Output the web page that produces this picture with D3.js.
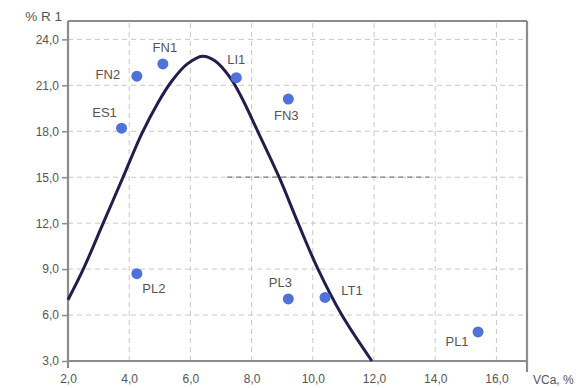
<!DOCTYPE html>
<html>
<head>
<meta charset="utf-8">
<script src="https://cdn.jsdelivr.net/npm/d3@7"></script>
<style>
  html, body { margin: 0; padding: 0; background: #fff; }
  svg { display: block; font-family: "Liberation Sans", Arial, sans-serif; }
</style>
</head>
<body>
<div id="chart"></div>
<script>
// samples: name, VCa %, R1 %
const names = ["FN1", "FN2", "ES1", "LI1", "FN3", "PL2", "PL3", "LT1", "PL1"];
const vca   = [5.1, 4.25, 3.75, 7.5, 9.2, 4.25, 9.2, 10.4, 15.4];
const r1    = [22.4, 21.6, 18.2, 21.5, 20.1, 8.7, 7.05, 7.15, 4.9];

// fitted curve
const curveX = [2.0, 2.5, 3.15, 3.8, 4.4, 4.95, 5.4, 5.9, 6.4, 6.8, 7.3, 7.65, 8.2, 8.9, 9.52, 10.17, 10.95, 11.93];
const curveY = [7.0, 9.0, 12.0, 15.0, 17.8, 19.9, 21.3, 22.4, 22.9, 22.6, 21.5, 20.3, 18.0, 15.0, 12.0, 9.0, 6.0, 3.0];

const xTicks = [2, 4, 6, 8, 10, 12, 14, 16];
const yTicks = [3, 6, 9, 12, 15, 18, 21, 24];

const W = 580, H = 388;
const margin = { top: 21, right: 53, bottom: 27, left: 68 };

// label offsets from each dot (px)
const labelPos = {
  FN1: [2, -16], FN2: [-29, -2], ES1: [-17, -16], LI1: [0, -18], FN3: [-2, 16],
  PL2: [17, 15], PL3: [-8, -16], LT1: [27, -7], PL1: [-21, 10]
};

const fmt = d => d3.format(".1f")(d).replace(".", ",");

const svg = d3.select("#chart").append("svg")
  .attr("width", W)
  .attr("height", H);

const x = d3.scaleLinear().domain([2, 17]).range([margin.left, W - margin.right]);
const y = d3.scaleLinear().domain([3, 25.2]).range([H - margin.bottom, margin.top]);

const grid = svg.append("g").attr("stroke", "#c8c8c8").attr("stroke-width", 1).attr("stroke-dasharray", "5,4");

grid.selectAll(".gx")
  .data(xTicks.slice(1))
  .join("line")
  .attr("x1", d => x(d)).attr("x2", d => x(d))
  .attr("y1", y(3)).attr("y2", margin.top);

grid.selectAll(".gy")
  .data(yTicks.slice(1))
  .join("line")
  .attr("x1", x(2)).attr("x2", W - margin.right)
  .attr("y1", d => y(d)).attr("y2", d => y(d));

// darker dashed stretch on the 15,0 row (as in the scan)
svg.append("line")
  .attr("x1", x(7.2)).attr("x2", x(13.8))
  .attr("y1", y(15)).attr("y2", y(15))
  .attr("stroke", "#7a7a7a")
  .attr("stroke-width", 1.3)
  .attr("stroke-dasharray", "5,4");

// frame
const frame = svg.append("g").attr("stroke", "#8c8c8c").attr("stroke-width", 2.2).attr("fill", "none");
frame.append("line").attr("x1", x(2)).attr("x2", W - margin.right).attr("y1", margin.top).attr("y2", margin.top);
frame.append("line").attr("x1", W - margin.right).attr("x2", W - margin.right).attr("y1", margin.top).attr("y2", y(3) + 11);

// y axis
const yAxis = svg.append("g")
  .attr("transform", `translate(${margin.left},0)`)
  .call(d3.axisLeft(y).tickValues(yTicks).tickFormat(fmt).tickSize(6).tickPadding(3));
yAxis.select(".domain").remove();
yAxis.selectAll(".tick line").attr("stroke", "#8c8c8c").attr("stroke-width", 1.5);
yAxis.selectAll("text").attr("fill", "#555").style("font-size", "12px");

// x axis
const xAxis = svg.append("g")
  .attr("transform", `translate(0,${H - margin.bottom})`)
  .call(d3.axisBottom(x).tickValues(xTicks).tickFormat(fmt).tickSize(0).tickPadding(13));
xAxis.select(".domain").remove();
xAxis.selectAll("text").attr("fill", "#555").style("font-size", "12px");

frame.append("line").attr("x1", x(2)).attr("x2", W - margin.right).attr("y1", y(3)).attr("y2", y(3));
frame.append("line").attr("x1", x(2)).attr("x2", x(2)).attr("y1", margin.top).attr("y2", y(3) + 7);

// axis titles
svg.append("text")
  .attr("x", 62).attr("y", 21)
  .attr("text-anchor", "end")
  .attr("fill", "#555")
  .style("font-size", "13.5px")
  .text("% R 1");

svg.append("text")
  .attr("x", 533).attr("y", 384)
  .attr("fill", "#555")
  .style("font-size", "12px")
  .text("VCa, %");

// curve
const curvePts = curveX.map((d, i) => [d, curveY[i]]);
svg.append("path")
  .datum(curvePts)
  .attr("fill", "none")
  .attr("stroke", "#221d4d")
  .attr("stroke-width", 3)
  .attr("d", d3.line().x(d => x(d[0])).y(d => y(d[1])).curve(d3.curveCatmullRom.alpha(0.5)));

// dots + labels
const pts = names.map((n, i) => ({ name: n, vx: vca[i], vy: r1[i] }));

svg.selectAll(".dot")
  .data(pts)
  .join("circle")
  .attr("class", "dot")
  .attr("cx", d => x(d.vx))
  .attr("cy", d => y(d.vy))
  .attr("r", 5.5)
  .attr("fill", "#4f72d9");

svg.selectAll(".lbl")
  .data(pts)
  .join("text")
  .attr("class", "lbl")
  .attr("x", d => x(d.vx) + labelPos[d.name][0])
  .attr("y", d => y(d.vy) + labelPos[d.name][1])
  .attr("text-anchor", "middle")
  .attr("dominant-baseline", "central")
  .attr("fill", "#555")
  .style("font-size", "13px")
  .text(d => d.name);
</script>
</body>
</html>
